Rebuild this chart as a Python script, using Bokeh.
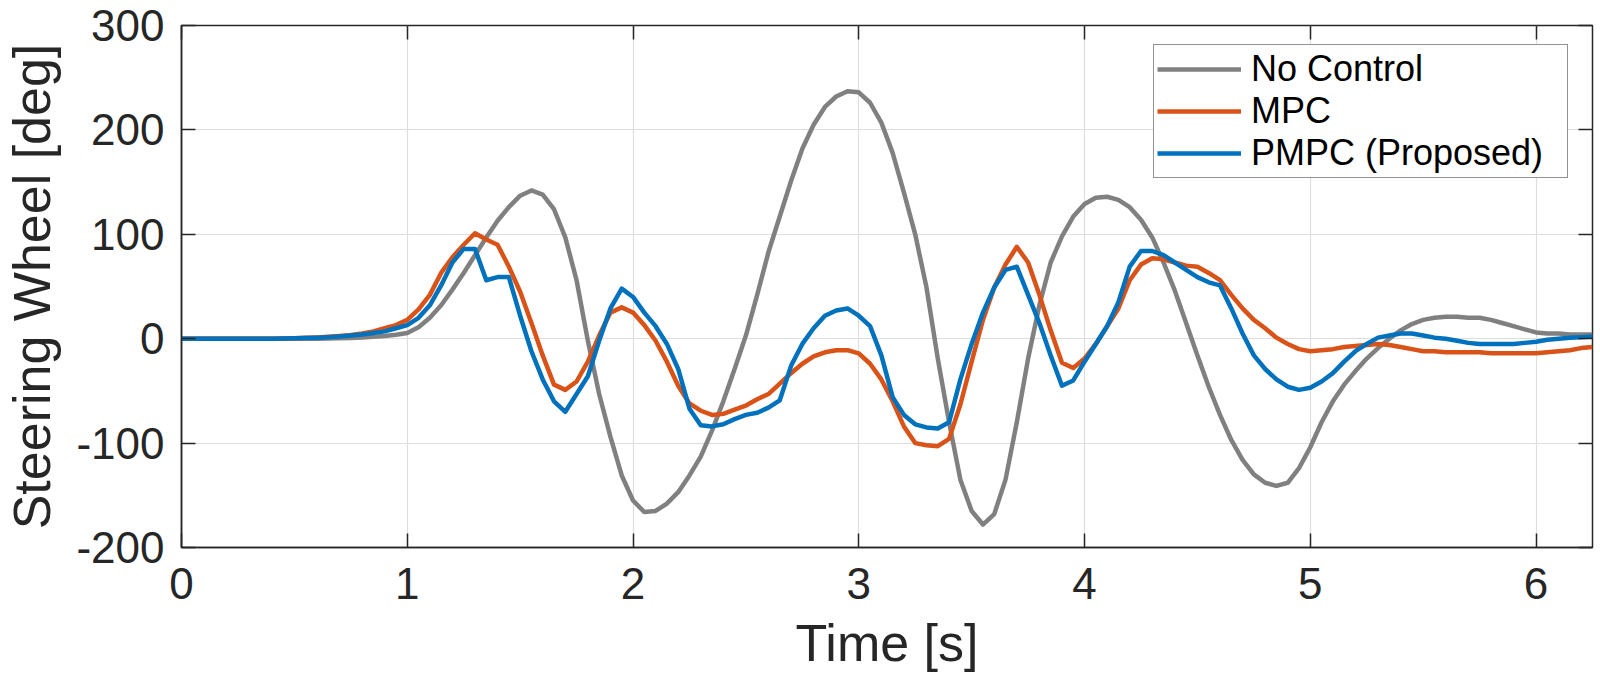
from bokeh.plotting import figure
from bokeh.models import LinearAxis, Range1d, FixedTicker, CustomJSTickFormatter
from bokeh.embed import file_html
from bokeh.resources import INLINE

# time grid (s), 0.05 s sampling
time_s = [round(i * 0.05, 2) for i in range(126)]

no_control = [
    0, 0, 0, 0, 0, 0, 0, 0, 0, 0,
    0, 0, 0, 0.2, 0.4, 0.7, 1.2, 1.8, 2.6, 3.8,
    5.5, 11, 20, 32, 47, 63, 80, 97, 113, 126,
    137, 142, 138, 124, 97, 56, -2, -53, -94, -131,
    -155, -166, -165, -158, -147, -131, -113, -88, -60, -29,
    3, 42, 83, 117, 151, 182, 205, 222, 232, 237,
    236, 226, 207, 178, 140, 100, 49, -19, -80, -135,
    -165, -178, -168, -135, -80, -19, 32, 73, 98, 117,
    129, 135, 136, 133, 126, 114, 97, 73, 46, 15,
    -16, -46, -73, -97, -116, -130, -138, -141, -138, -124,
    -104, -80, -60, -44, -31, -19, -9, 0, 8, 14,
    18, 20, 21, 21, 20, 20, 18, 15, 12, 9,
    6, 5, 5, 4, 4, 4,
]

mpc = [
    0, 0, 0, 0, 0, 0, 0, 0, 0, 0.3,
    0.5, 0.8, 1.2, 1.8, 2.6, 3.6, 5, 7, 10, 13,
    18, 28, 42, 63, 78, 90, 101, 95, 90, 69,
    45, 15, -16, -44, -49, -41, -22, 3, 25, 30,
    25, 13, -2, -22, -45, -62, -69, -73, -72, -68,
    -64, -58, -53, -43, -33, -24, -17, -13, -11, -11,
    -14, -24, -39, -60, -84, -100, -102, -103, -96, -63,
    -22, 18, 49, 71, 88, 73, 42, 8, -23, -28,
    -19, -5, 12, 29, 56, 71, 77, 76, 73, 70,
    69, 63, 56, 42, 29, 18, 10, 1, -5, -10,
    -12, -11, -10, -8, -7, -6, -5, -6, -8, -10,
    -12, -12, -13, -13, -13, -13, -14, -14, -14, -14,
    -14, -13, -12, -11, -9, -8,
]

pmpc = [
    0, 0, 0, 0, 0, 0, 0, 0, 0, 0.3,
    0.5, 0.7, 1, 1.5, 2.2, 3, 4, 5.5, 7, 10,
    13, 20, 32, 51, 73, 86, 86, 56, 59, 59,
    22, -12, -39, -60, -70, -53, -36, -2, 29, 48,
    40, 25, 12, -5, -29, -67, -83, -84, -82, -77,
    -73, -71, -66, -59, -26, -5, 10, 22, 27, 29,
    22, 12, -16, -56, -73, -82, -85, -86, -80, -39,
    -5, 25, 49, 66, 69, 42, 15, -16, -45, -40,
    -22, -5, 12, 35, 69, 84, 84, 80, 73, 66,
    59, 54, 51, 29, 5, -16, -29, -39, -46, -49,
    -47, -41, -33, -22, -12, -5, 1, 3, 5, 5,
    3, 1, 0, -2, -4, -5, -5, -5, -5, -4,
    -3, -1, 0, 1, 1.5, 2,
]

x_ticks = [0, 1, 2, 3, 4, 5, 6]
y_ticks = [-200, -100, 0, 100, 200, 300]
series_names = ["No Control", "MPC", "PMPC (Proposed)"]
series_colors = ["#808080", "#D95319", "#0072BD"]

FONT = "Liberation Sans"
INK = "#262626"

p = figure(width=1600, height=681, output_backend="svg", toolbar_location=None,
           x_range=Range1d(0, 6.25), y_range=Range1d(-200, 300),
           min_border_left=177, min_border_right=8, min_border_top=25,
           min_border_bottom=134, background_fill_color="white",
           border_fill_color="white")

p.outline_line_color = INK
p.outline_line_width = 1.5

xt = FixedTicker(ticks=x_ticks, minor_ticks=[])
yt = FixedTicker(ticks=y_ticks, minor_ticks=[])
plain = CustomJSTickFormatter(code="return String(tick);")
blank = CustomJSTickFormatter(code="return '';")

for ax, t in ((p.xaxis[0], xt), (p.yaxis[0], yt)):
    ax.ticker = t
    ax.formatter = plain
    ax.major_tick_in = 14
    ax.major_tick_out = 0
    ax.minor_tick_in = 0
    ax.minor_tick_out = 0
    ax.major_tick_line_color = INK
    ax.major_tick_line_width = 1.5
    ax.axis_line_color = INK
    ax.axis_line_width = 1.5
    ax.major_label_text_font = FONT
    ax.major_label_text_font_size = "44px"
    ax.major_label_text_color = INK
    ax.axis_label_text_font = FONT
    ax.axis_label_text_font_size = "52px"
    ax.axis_label_text_font_style = "normal"
    ax.axis_label_text_color = INK

p.xaxis[0].axis_label = "Time [s]"
p.xaxis[0].major_label_standoff = 20
p.xaxis[0].axis_label_standoff = 12
p.yaxis[0].axis_label = "Steering Wheel [deg]"
p.yaxis[0].major_label_standoff = 17
p.yaxis[0].axis_label_standoff = 12

for side, t in (("above", xt), ("right", yt)):
    ax = LinearAxis(ticker=t, formatter=blank,
                    major_label_standoff=0, major_tick_in=14, major_tick_out=0,
                    minor_tick_in=0, minor_tick_out=0, axis_line_color=None,
                    major_tick_line_color=INK, major_tick_line_width=1.5)
    p.add_layout(ax, side)

p.xgrid.ticker = xt
p.ygrid.ticker = yt
for g in (p.xgrid[0], p.ygrid[0]):
    g.grid_line_color = "#dedede"
    g.grid_line_width = 1.2

for ys, name, col in zip((no_control, mpc, pmpc), series_names, series_colors):
    p.line(time_s, ys, line_color=col, line_width=4.5, legend_label=name,
           line_join="round")

lg = p.legend[0]
lg.location = (972, 369)
lg.label_text_font = FONT
lg.label_text_font_size = "36px"
lg.label_text_color = "black"
lg.glyph_width = 84
lg.glyph_height = 40
lg.label_height = 40
lg.label_width = 313
lg.label_standoff = 10
lg.padding = 3
lg.spacing = 0
lg.margin = 0
lg.border_line_color = INK
lg.border_line_width = 1.5
lg.background_fill_alpha = 1

open("out.html", "w").write(file_html(p, INLINE))
